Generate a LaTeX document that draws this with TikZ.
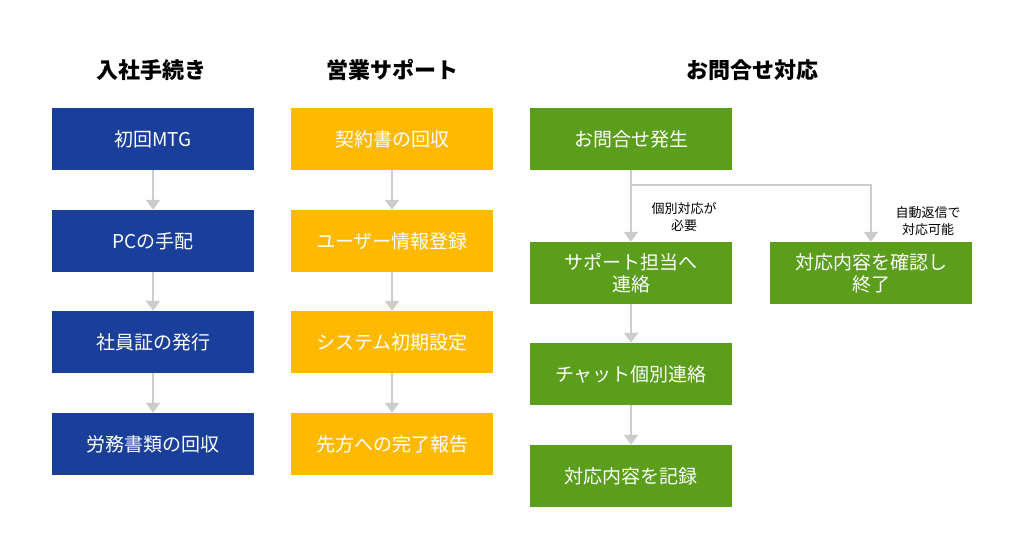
\documentclass[tikz,border=0pt]{standalone}
\usepackage{fontspec}
\setmainfont{Noto Sans CJK JP}
\usetikzlibrary{arrows.meta}
\definecolor{cblue}{HTML}{1A3F9B}
\definecolor{cyel}{HTML}{FFBA00}
\definecolor{cgreen}{HTML}{5A9E1C}
\definecolor{cgray}{HTML}{CCCCCC}
\begin{document}
\begin{tikzpicture}[x=1pt,y=-1pt,
 box/.style={minimum width=202pt,minimum height=62pt,inner sep=0pt,align=center,font=\fontsize{19}{22}\selectfont,text=white},
 bx/.style={box,fill=cblue},
 by/.style={box,fill=cyel},
 bg/.style={box,fill=cgreen},
 hd/.style={font=\fontsize{22}{26}\selectfont\bfseries},
 lb/.style={font=\fontsize{13}{17}\selectfont,align=center,inner sep=0pt},
 arr/.style={draw=cgray,line width=2pt,-{Triangle[width=14pt,length=10pt]}}]
\useasboundingbox (0,0) rectangle (1024,559);
\node[hd] (h1) at (151,70) {入社手続き};
\node[hd] (h2) at (392,70) {営業サポート};
\node[hd] (h3) at (752,70) {お問合せ対応};
\node[bx] (a1) at (153,139) {初回MTG};
\node[bx] (a2) at (153,241) {PCの手配};
\node[bx] (a3) at (153,342) {社員証の発行};
\node[bx] (a4) at (153,444) {労務書類の回収};
\node[by] (b1) at (392,139) {契約書の回収};
\node[by] (b2) at (392,241) {ユーザー情報登録};
\node[by] (b3) at (392,342) {システム初期設定};
\node[by] (b4) at (392,444) {先方への完了報告};
\node[bg] (c1) at (631,139) {お問合せ発生};
\node[bg] (c2) at (631,273) {サポート担当へ\\連絡};
\node[bg] (c3) at (631,374) {チャット個別連絡};
\node[bg] (c4) at (631,476) {対応内容を記録};
\node[bg] (d1) at (871,273) {対応内容を確認し\\終了};
\foreach \u/\v in {a1/a2,a2/a3,a3/a4,b1/b2,b2/b3,b3/b4,c1/c2,c2/c3,c3/c4}
  \draw[arr] (\u) -- (\v);
\coordinate (j) at (c1.south |- 0,185);
\draw[arr] (j) -| (d1.north);
\node[lb] (l1) at (684,217) {個別対応が\\必要};
\node[lb] (l2) at (928,221) {自動返信で\\対応可能};
\end{tikzpicture}
\end{document}
